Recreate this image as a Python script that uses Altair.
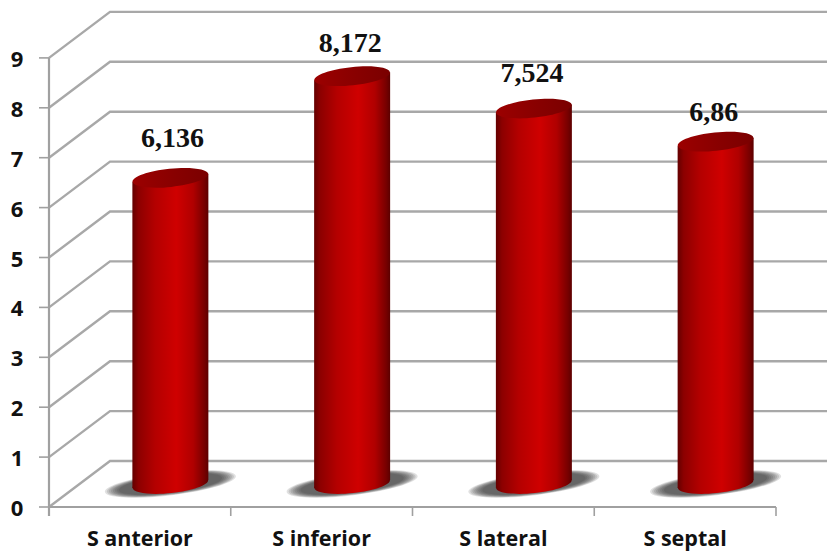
import math

import altair as alt
import pandas as pd

# Mean S' velocity by wall, drawn as a pseudo-3D cylinder chart.
categories = ["S anterior", "S inferior", "S lateral", "S septal"]
values = [6.136, 8.172, 7.524, 6.86]
value_labels = ["6,136", "8,172", "7,524", "6,86"]
y_ticks = [0, 1, 2, 3, 4, 5, 6, 7, 8, 9]

# Canvas and projection: one category and one unit in pixels, and the depth shift.
W, H = 827, 553
LEFT, BASE = 49.0, 507.0
CAT_PX, UNIT_PX = 181.75, 49.9
DEPTH_X, DEPTH_Y = 61.0 / CAT_PX, 46.0 / UNIT_PX
px_x = lambda p: p / CAT_PX
px_y = lambda p: p / UNIT_PX

x_scale = alt.Scale(domain=[-LEFT / CAT_PX, (W - LEFT) / CAT_PX], range=[0, W], nice=False, zero=False)
y_scale = alt.Scale(domain=[(BASE - H) / UNIT_PX, BASE / UNIT_PX], range=[H, 0], nice=False, zero=False)
X = lambda f="x": alt.X(f"{f}:Q", scale=x_scale, axis=None)
Y = lambda f="y": alt.Y(f"{f}:Q", scale=y_scale, axis=None)

GRID = "#a8a8a8"
AXIS = "#a0a0a0"


def tilted_ellipse(ry, degrees):
    """Unit-width tilted ellipse as an SVG path of four cubic segments."""
    k = 0.5523
    t = math.radians(degrees)
    def pt(a, b):
        return f"{a * math.cos(t) - b * ry * math.sin(t):.4f},{a * math.sin(t) + b * ry * math.cos(t):.4f}"
    segs = [
        ((-1, -k), (-k, -1), (0, -1)),
        ((k, -1), (1, -k), (1, 0)),
        ((1, k), (k, 1), (0, 1)),
        ((-k, 1), (-1, k), (-1, 0)),
    ]
    path = "M" + pt(-1, 0)
    for s in segs:
        path += "C" + " ".join(pt(*p) for p in s)
    return path + "Z"


# Cylinder cap and base share one tilted ellipse path.
TILT_DEG = -6.0
TILT_PATH = tilted_ellipse(0.24, TILT_DEG)
SHADOW_PATH = tilted_ellipse(0.17, -7.0)
BAR_RX = 38.0
TILT_PX = BAR_RX * math.sin(math.radians(-TILT_DEG))

body_fill = {
    "gradient": "linear", "x1": 0, "x2": 1, "y1": 0, "y2": 0,
    "stops": [
        {"offset": 0.0, "color": "#640000"},
        {"offset": 0.08, "color": "#8c0000"},
        {"offset": 0.3, "color": "#b40000"},
        {"offset": 0.58, "color": "#cf0000"},
        {"offset": 0.8, "color": "#b00000"},
        {"offset": 0.95, "color": "#760000"},
        {"offset": 1.0, "color": "#5c0000"},
    ],
}
cap_fill = {
    "gradient": "linear", "x1": 0, "x2": 1, "y1": 0, "y2": 0,
    "stops": [
        {"offset": 0.0, "color": "#9c0000"},
        {"offset": 0.5, "color": "#8a0000"},
        {"offset": 1.0, "color": "#7a0000"},
    ],
}

centers = [i + 0.5 + DEPTH_X / 2 for i in range(len(categories))]
floor_v = DEPTH_Y / 2

# Back-wall gridlines with their diagonal run to the front axis.
grid_rows = []
for t in y_ticks:
    for px, pv in [(0, t), (DEPTH_X, t + DEPTH_Y), ((W - LEFT) / CAT_PX, t + DEPTH_Y)]:
        grid_rows.append({"level": t, "x": px, "y": pv})
grid = alt.Chart(pd.DataFrame(grid_rows)).mark_line(color=GRID, strokeWidth=2.4).encode(
    x=X(), y=Y(), detail="level:N"
)

# Front axes and tick marks.
axis = alt.Chart(pd.DataFrame([{"x": 0, "y": -px_y(9), "y2": 9}])).mark_rule(color=AXIS, strokeWidth=2.2).encode(
    x=X(), y=Y(), y2="y2:Q"
)
base_line = alt.Chart(pd.DataFrame([{"x": 0, "x2": 4, "y": 0}])).mark_rule(color=AXIS, strokeWidth=2.2).encode(
    x=X(), x2="x2:Q", y=Y()
)
left_ticks = alt.Chart(pd.DataFrame({"y": y_ticks, "x": -px_x(10), "x2": 0})).mark_rule(color=AXIS, strokeWidth=1.6).encode(
    x=X(), x2="x2:Q", y=Y()
)
bottom_ticks = alt.Chart(pd.DataFrame({"x": range(5), "y": 0, "y2": -px_y(9)})).mark_rule(color=AXIS, strokeWidth=1.6).encode(
    x=X(), y=Y(), y2="y2:Q"
)

# Soft floor shadow built from stacked translucent ellipses.
shadow_rows = []
for c in centers:
    for half in [66, 64, 62, 60, 58, 56, 54, 52]:
        shadow_rows.append({"x": c, "y": floor_v, "size": (2 * half) ** 2})
shadow = alt.Chart(pd.DataFrame(shadow_rows)).mark_point(
    shape=SHADOW_PATH, filled=True, color="#303030", opacity=0.15, strokeWidth=0
).encode(x=X(), y=Y(), size=alt.Size("size:Q", scale=None, legend=None))

# Cylinder parts.
ends = pd.DataFrame({"x": centers, "y": floor_v, "top": [v + floor_v for v in values]})
base_cap = alt.Chart(ends).mark_point(
    shape=TILT_PATH, filled=True, fill=body_fill, opacity=1, strokeWidth=0, size=(2 * BAR_RX) ** 2
).encode(x=X(), y=Y())

body_rows = []
for cat, c, v in zip(categories, centers, values):
    for side in (-1, 1):
        body_rows.append({
            "cat": cat,
            "x": c + side * px_x(BAR_RX),
            "y": floor_v + side * px_y(TILT_PX),
            "top": v + floor_v + side * px_y(TILT_PX),
        })
body = alt.Chart(pd.DataFrame(body_rows)).mark_area(fill=body_fill, opacity=1).encode(
    x=X(), y=Y(), y2="top:Q", detail="cat:N"
)
top_cap = alt.Chart(ends).mark_point(
    shape=TILT_PATH, filled=True, fill=cap_fill, opacity=1, strokeWidth=0, size=(2 * BAR_RX) ** 2
).encode(x=X(), y=Y("top"))

# Text: axis numbers, category names and value labels.
y_labels = alt.Chart(pd.DataFrame({"y": y_ticks, "x": -px_x(32)})).mark_text(
    font="Open Sans", fontWeight="bold", fontSize=22, color="#111111", align="center", baseline="middle", dy=2
).encode(x=X(), y=Y(), text="y:Q")
cat_labels = alt.Chart(pd.DataFrame({
    "name": categories, "x": [i + 0.5 for i in range(4)], "y": -px_y(34)
})).mark_text(
    font="Open Sans", fontWeight="bold", fontSize=21.5, color="#111111", align="center", baseline="middle", dy=-1
).encode(x=X(), y=Y(), text="name:N")

label_nudge_px = [(2, -39), (-2, -32), (-2, -35), (-2, -29)]
value_text = [
    alt.Chart(pd.DataFrame({"t": [lab], "x": [c], "y": [v + floor_v]})).mark_text(
        font="Liberation Serif", fontWeight="bold", fontSize=28, color="#111111",
        align="center", baseline="middle", dx=dx, dy=dy
    ).encode(x=X(), y=Y(), text="t:N")
    for lab, c, v, (dx, dy) in zip(value_labels, centers, values, label_nudge_px)
]

chart = alt.layer(
    grid, axis, base_line, left_ticks, bottom_ticks, shadow, base_cap, body, top_cap,
    y_labels, cat_labels, *value_text
).properties(
    width=W, height=H, padding=0, autosize=alt.AutoSizeParams(type="none"), background="white"
).configure_view(stroke=None)

chart.save("out.html", embed_options={"renderer": "svg", "actions": False})
